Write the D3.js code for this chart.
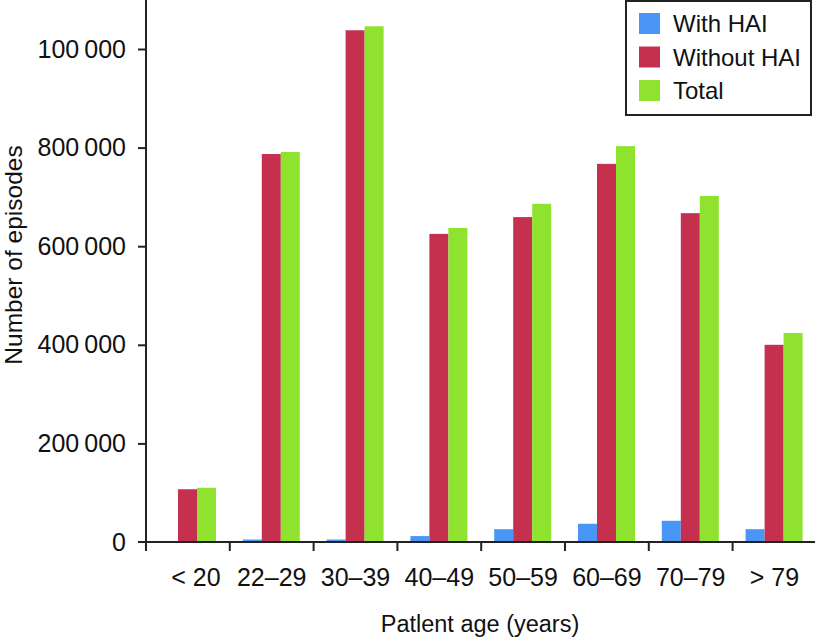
<!DOCTYPE html>
<html><head><meta charset="utf-8">
<script src="https://cdn.jsdelivr.net/npm/d3@7"></script>
<style>body{margin:0;background:#fff}svg{display:block;font-family:"Liberation Sans",Arial,Helvetica,sans-serif}</style>
</head><body>
<script>
const categories = ["< 20","22\u201329","30\u201339","40\u201349","50\u201359","60\u201369","70\u201379","> 79"];
const seriesNames = ["With HAI","Without HAI","Total"];
const withHAI    = [0, 5000, 5000, 12000, 26000, 37000, 43000, 26000];
const withoutHAI = [107000, 787000, 1038000, 625000, 659000, 767000, 667000, 400000];
const total      = [110000, 791000, 1046000, 637000, 686000, 803000, 702000, 424000];
const yTickValues = [0, 200000, 400000, 600000, 800000, 1000000];
const yTickLabels = ["0","200\u2009000","400\u2009000","600\u2009000","800\u2009000","100\u2009000"];
const colors = ["#4a96f6","#c4304d","#8fe22e"];

const W = 815, H = 639;
const svg = d3.select("body").append("svg").attr("width", W).attr("height", H);
const x0 = 146, y0 = 542;
const x = d3.scaleBand().domain(categories).range([x0, x0 + 8*83.8]).paddingInner(0).paddingOuter(0);
const xs = d3.scaleBand().domain(seriesNames).range([13, 13 + 57]);
const y = d3.scaleLinear().domain([0, 1000000]).range([y0, y0 - 493]);
const series = [withHAI, withoutHAI, total];

const g = svg.append("g");
series.forEach((vals, si) => {
  g.selectAll(null).data(categories).enter().append("rect")
    .attr("x", d => x(d) + xs(seriesNames[si]))
    .attr("width", xs.bandwidth())
    .attr("y", (d, i) => y(vals[i]))
    .attr("height", (d, i) => y0 - y(vals[i]))
    .attr("fill", colors[si]);
});

// y axis
const yAxis = d3.axisLeft(y).tickValues(yTickValues).tickSize(8).tickPadding(12)
  .tickFormat((d, i) => yTickLabels[i]);
const ya = svg.append("g").attr("transform", `translate(${x0},0)`).call(yAxis);
ya.select(".domain").remove();
ya.append("line").attr("x1",0).attr("x2",0).attr("y1",0).attr("y2",y0+9).attr("stroke","#222").attr("stroke-width",2);
ya.selectAll(".tick line").attr("stroke","#222").attr("stroke-width",2);
ya.selectAll(".tick text").attr("font-size",25).attr("fill","#111").attr("font-family","Liberation Sans, Arial, sans-serif");
ya.selectAll(".tick").filter(d => d === 0).remove();
svg.append("text").attr("x", x0 - 20).attr("y", y0).attr("dy","0.35em").attr("text-anchor","end")
  .attr("font-size",25).attr("fill","#111").text(yTickLabels[0]);

// x axis
const xAxis = d3.axisBottom(x).tickSize(0).tickPadding(26);
const xa = svg.append("g").attr("transform", `translate(0,${y0})`).call(xAxis);
xa.select(".domain").remove();
xa.append("line").attr("x1", x0 - 8).attr("x2", W).attr("y1",0).attr("y2",0).attr("stroke","#222").attr("stroke-width",2);
xa.selectAll(".tick text").attr("font-size",25).attr("fill","#111").attr("font-family","Liberation Sans, Arial, sans-serif")
  .attr("dx", (d, i) => i === 0 ? 8 : 0);
xa.selectAll(null).data(categories).enter().append("line")
  .attr("x1", d => x(d)).attr("x2", d => x(d)).attr("y1",0).attr("y2",9)
  .attr("stroke","#222").attr("stroke-width",2);

// axis titles
svg.append("text").attr("x", 480).attr("y", 632).attr("text-anchor","middle")
  .attr("font-size",23.5).attr("fill","#111").text("Patlent age (years)");
svg.append("text").attr("transform","translate(22,255) rotate(-90)").attr("text-anchor","middle")
  .attr("font-size",24.5).attr("fill","#111").text("Number of episodes");

// legend
const lg = svg.append("g");
lg.append("rect").attr("x",626).attr("y",1).attr("width",185).attr("height",114)
  .attr("fill","#fff").attr("stroke","#222").attr("stroke-width",2);
seriesNames.forEach((n, i) => {
  lg.append("rect").attr("x",639).attr("y",13 + i*33.5).attr("width",21).attr("height",21).attr("fill",colors[i]);
  lg.append("text").attr("x",673).attr("y",32 + i*33.5).attr("font-size",24).attr("fill","#111").text(n);
});
</script>
</body></html>
